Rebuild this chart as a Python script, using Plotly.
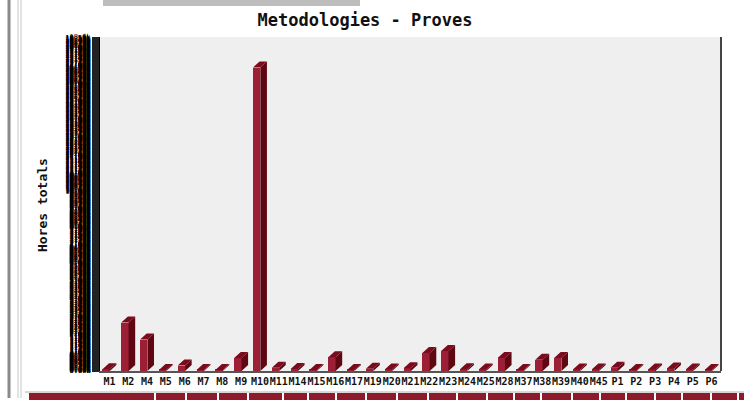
import plotly.graph_objects as go

categories = ["M1", "M2", "M4", "M5", "M6", "M7", "M8", "M9", "M10", "M11",
              "M14", "M15", "M16", "M17", "M19", "M20", "M21", "M22", "M23", "M24",
              "M25", "M28", "M37", "M38", "M39", "M40", "M45", "P1", "P2", "P3",
              "P4", "P5", "P6"]
hours = [100, 2700, 1750, 60, 300, 60, 60, 720, 16900, 180,
         110, 60, 760, 60, 120, 80, 150, 1000, 1120, 100,
         90, 720, 60, 620, 720, 80, 90, 180, 60, 80,
         140, 90, 60]

title_text = "Metodologies - Proves"
y_title = "Hores totals"
y_max = 18600
y_step = 20

# geometry of the chart (pixels) for the page-level decorations
W, H = 744, 400
L, R, T, B = 100, 23, 37, 29
pw, ph = W - L - R, H - T - B


def px(x):
    return (x - L) / pw


def py(y):
    return (H - B - y) / ph


front_w = 0.39
front_off = -0.37
dx = 0.35                      # depth in category units
dy = 6 / ph * y_max            # depth in value units

idx = list(range(len(categories)))

fig = go.Figure()

fig.add_trace(go.Bar(
    x=idx, y=hours, base=0, width=front_w, offset=front_off,
    marker=dict(color="#9c1f36", line=dict(width=0)),
    hoverinfo="skip", showlegend=False,
))

top_x, top_y, side_x, side_y = [], [], [], []
for i, v in zip(idx, hours):
    x0 = i + front_off
    x1 = x0 + front_w
    top_x += [x0, x1, x1 + dx, x0 + dx, x0, None]
    top_y += [v, v, v + dy, v + dy, v, None]
    side_x += [x1, x1, x1 + dx, x1 + dx, x1, None]
    side_y += [0, v, v + dy, dy, 0, None]

fig.add_trace(go.Scatter(x=side_x, y=side_y, mode="lines", fill="toself",
                         fillcolor="#5e0612", line=dict(width=0, color="#5e0612"),
                         hoverinfo="skip", showlegend=False))
fig.add_trace(go.Scatter(x=top_x, y=top_y, mode="lines", fill="toself",
                         fillcolor="#7a0a1c", line=dict(width=0, color="#7a0a1c"),
                         hoverinfo="skip", showlegend=False))

shapes = []
# right border of plot area
shapes.append(dict(type="line", xref="paper", yref="paper", x0=1, x1=1, y0=0, y1=1,
                   line=dict(color="#444444", width=2)))
# page decorations: left frame lines
shapes.append(dict(type="line", xref="paper", yref="paper", x0=px(9), x1=px(9),
                   y0=py(0), y1=py(398), line=dict(color="#8a8a8a", width=3)))
shapes.append(dict(type="line", xref="paper", yref="paper", x0=px(18), x1=px(18),
                   y0=py(0), y1=py(398), line=dict(color="#c8c8c8", width=1)))
shapes.append(dict(type="line", xref="paper", yref="paper", x0=px(21), x1=px(21),
                   y0=py(0), y1=py(398), line=dict(color="#c8c8c8", width=1)))
# top gray box
shapes.append(dict(type="rect", xref="paper", yref="paper", x0=px(103), x1=px(360),
                   y0=py(6), y1=py(0), fillcolor="#bdbdbd", line=dict(width=0)))
# bottom red boxes
shapes.append(dict(type="rect", xref="paper", yref="paper", x0=px(29), x1=px(744),
                   y0=py(400), y1=py(393), fillcolor="#8e1a2c", line=dict(width=0)))
shapes.append(dict(type="line", xref="paper", yref="paper", x0=px(25), x1=px(744),
                   y0=py(392), y1=py(392), line=dict(color="#b0b0b0", width=1)))
for sx in [155, 186, 218, 248, 283, 308, 336, 366, 397, 428, 457, 487, 514, 541,
           572, 600, 626, 655, 682, 711, 738]:
    shapes.append(dict(type="line", xref="paper", yref="paper", x0=px(sx), x1=px(sx),
                       y0=py(400), y1=py(393), line=dict(color="#ffffff", width=2)))

fig.update_layout(
    width=W, height=H,
    margin=dict(l=L, r=R, t=T, b=B),
    paper_bgcolor="#ffffff",
    plot_bgcolor="#efefef",
    title=dict(text=title_text, x=px(365), xanchor="center", xref="paper",
               y=1 - 20 / H, yanchor="middle", automargin=False,
               font=dict(family="DejaVu Sans Mono", size=17, color="#111111",
                         weight="bold")),
    xaxis=dict(range=[-0.5, len(categories) - 0.5], tickmode="array",
               tickvals=idx, ticktext=categories, ticks="", tickangle=0,
               automargin=False,
               tickfont=dict(family="DejaVu Sans Mono", size=10, color="#111111",
                             weight="bold"),
               showline=True, linecolor="#555555", linewidth=2,
               showgrid=False, zeroline=False, fixedrange=True),
    yaxis=dict(range=[0, y_max], tickmode="linear", tick0=0, dtick=y_step,
               ticks="outside", ticklen=7, tickwidth=1, tickcolor="#222222",
               automargin=False,
               tickfont=dict(family="DejaVu Sans Mono", size=7, color="#000000"),
               showline=True, linecolor="#000000", linewidth=1,
               showgrid=False, zeroline=False, fixedrange=True),
    shapes=shapes,
    annotations=[dict(text=y_title, xref="paper", yref="paper", x=px(42), y=py(205),
                      textangle=-90, showarrow=False, xanchor="center", yanchor="middle",
                      font=dict(family="DejaVu Sans Mono", size=13, color="#111111",
                                weight="bold"))],
    bargap=0,
)

fig.write_html("out.html", config={"displayModeBar": False},
               post_script="document.body.style.margin='0';document.body.style.overflow='hidden';")
